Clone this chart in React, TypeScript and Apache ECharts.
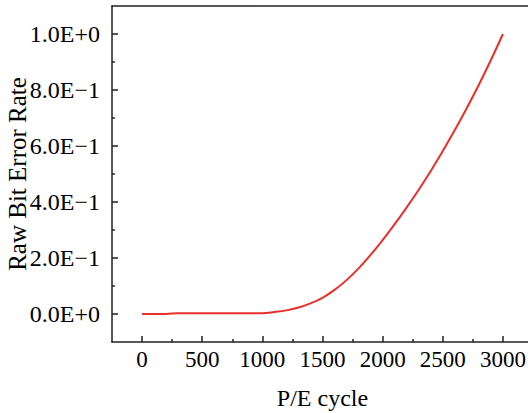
import React, { useEffect, useRef } from "react";
import * as echarts from "echarts";

const peCycles = [0, 100, 200, 300, 400, 500, 600, 700, 800, 900, 1000, 1100, 1200, 1300, 1400, 1500, 1600, 1700, 1800, 1900, 2000, 2100, 2200, 2300, 2400, 2500, 2600, 2700, 2800, 2900, 3000];
const rber = [0, 0, 0, 0.003, 0.003, 0.003, 0.003, 0.003, 0.003, 0.003, 0.003, 0.007, 0.013, 0.023, 0.038, 0.058, 0.086, 0.121, 0.163, 0.211, 0.264, 0.321, 0.381, 0.444, 0.511, 0.582, 0.657, 0.736, 0.819, 0.907, 1.0];
const xTickValues = [0, 500, 1000, 1500, 2000, 2500, 3000];
const xMinorValues = [250, 750, 1250, 1750, 2250, 2750];
const yTickValues = [0, 0.2, 0.4, 0.6, 0.8, 1.0];
const yMinorValues = [0.1, 0.3, 0.5, 0.7, 0.9];

const FONT = '"Liberation Serif", "Times New Roman", serif';
const AXIS_COLOR = "#222";

const fmtY = (v: number) => {
  if (Math.abs(v) < 1e-9) return "0.0E+0";
  const e = Math.floor(Math.log10(Math.abs(v)) + 1e-9);
  const m = v / Math.pow(10, e);
  return m.toFixed(1) + "E" + (e < 0 ? "\u2212" : "+") + Math.abs(e);
};

export default function App() {
  const ref = useRef<HTMLDivElement>(null);
  useEffect(() => {
    if (!ref.current) return;
    const chart = echarts.init(ref.current, undefined, { renderer: "svg" });
    const lineStyle = { color: AXIS_COLOR, width: 1.5 };
    chart.setOption({
      animation: false,
      backgroundColor: "#fff",
      grid: { left: 112, top: 6, right: -5, bottom: 71, containLabel: false, outerBoundsMode: "none" },
      xAxis: [
        {
          type: "value",
          min: -250,
          max: 3250,
          position: "bottom",
          name: "P/E cycle",
          nameLocation: "middle",
          nameGap: 44,
          nameTextStyle: { fontFamily: FONT, fontSize: 24, color: "#000" },
          axisLine: { show: true, onZero: false, lineStyle },
          axisTick: { show: true, inside: true, length: 6, customValues: xTickValues, lineStyle },
          axisLabel: { show: true, customValues: xTickValues, formatter: (v: number) => String(v), fontFamily: FONT, fontSize: 23, color: "#000", margin: 6 },
          splitLine: { show: false },
        },
        {
          type: "value",
          min: -250,
          max: 3250,
          position: "bottom",
          axisLine: { show: false, onZero: false },
          axisTick: { show: true, inside: true, length: 3, customValues: xMinorValues, lineStyle },
          axisLabel: { show: false },
          splitLine: { show: false },
        },
        {
          type: "value",
          min: -250,
          max: 3250,
          position: "top",
          axisLine: { show: true, onZero: false, lineStyle },
          axisTick: { show: false },
          axisLabel: { show: false },
          splitLine: { show: false },
        },
      ],
      yAxis: [
        {
          type: "value",
          min: -0.1,
          max: 1.1,
          position: "left",
          name: "Raw Bit Error Rate",
          nameLocation: "middle",
          nameRotate: 90,
          nameGap: 82,
          nameMoveOverlap: false,
          nameTextStyle: { fontFamily: FONT, fontSize: 25, color: "#000" },
          axisLine: { show: true, onZero: false, lineStyle },
          axisTick: { show: true, inside: true, length: 6, customValues: yTickValues, lineStyle },
          axisLabel: { show: true, customValues: yTickValues, formatter: fmtY, fontFamily: FONT, fontSize: 24, color: "#000", margin: 12 },
          splitLine: { show: false },
        },
        {
          type: "value",
          min: -0.1,
          max: 1.1,
          position: "left",
          axisLine: { show: false, onZero: false },
          axisTick: { show: true, inside: true, length: 3, customValues: yMinorValues, lineStyle },
          axisLabel: { show: false },
          splitLine: { show: false },
        },
      ],
      series: [
        {
          type: "line",
          xAxisIndex: 0,
          yAxisIndex: 0,
          data: peCycles.map((x, i) => [x, rber[i]]),
          showSymbol: false,
          smooth: 0.4,
          lineStyle: { color: "#e8302a", width: 2 },
          itemStyle: { color: "#e8302a" },
        },
      ],
    });
    return () => chart.dispose();
  }, []);
  return <div ref={ref} style={{ position: "fixed", left: 0, top: 0, width: 528, height: 413 }} />;
}
